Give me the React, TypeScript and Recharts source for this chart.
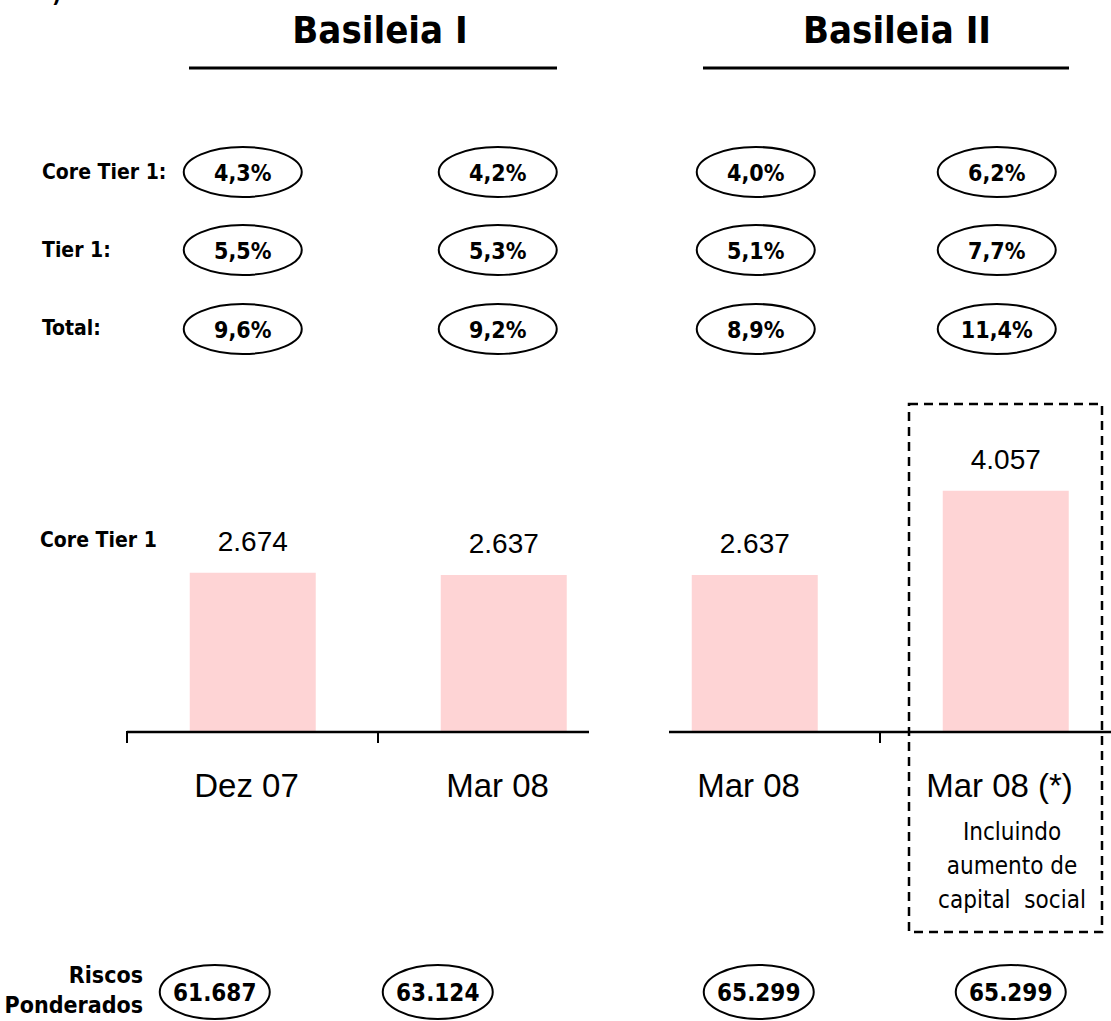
import React from 'react';
import { BarChart, Bar, XAxis, YAxis, LabelList } from 'recharts';

// ---------------------------------------------------------------------------
// Data
// ---------------------------------------------------------------------------

const categories = ['Dez 07', 'Mar 08', 'Mar 08', 'Mar 08 (*)'];
const coreTier1Capital = [2674, 2637, 2637, 4057];
const coreTier1Ratio = [4.3, 4.2, 4.0, 6.2];
const tier1Ratio = [5.5, 5.3, 5.1, 7.7];
const totalRatio = [9.6, 9.2, 8.9, 11.4];
const riskWeighted = [61687, 63124, 65299, 65299];

const data = categories.map((name, i) => ({
  id: i,
  name,
  capital: coreTier1Capital[i],
  core: coreTier1Ratio[i],
  tier1: tier1Ratio[i],
  total: totalRatio[i],
  rwa: riskWeighted[i],
}));

// ---------------------------------------------------------------------------
// Layout
// ---------------------------------------------------------------------------

const CHART_W = 1131;
const CHART_H = 1021;
const MARGIN_LEFT = 127;
const BAND = (CHART_W - MARGIN_LEFT) / categories.length;
const BASEL_II_START = 2; // first category measured under Basel II
const AXIS_GAP = 40; // half of the break in the axis between the two regimes

// badges are not exactly centred on the bars in the original slide
const ratioShift = [-10, -6, 1, -9];
const rwaShift = [-38, -66, 4, 5];

const BOLD = '"DejaVu Sans Condensed", "DejaVu Sans", Verdana, sans-serif';
const ARIAL = '"Liberation Sans", Arial, sans-serif';

const thousands = (v: number) => String(Math.round(v)).replace(/\B(?=(\d{3})+(?!\d))/g, '.');
const pct = (v: number) => v.toFixed(1).replace('.', ',') + '%';

// oval badge drawn at a fixed row height, centred on each bar
const oval =
  (
    cy: number,
    rx: number,
    ry: number,
    fontSize: number,
    shift: number[],
    fmt: (v: number) => string,
  ) =>
  // eslint-disable-next-line @typescript-eslint/no-explicit-any
  (props: any) => {
    const vb = props.viewBox ?? props;
    const cx = vb.x + vb.width / 2 + (shift[props.index] ?? 0);
    return (
      <g key={`oval-${cy}-${props.index}`}>
        <ellipse cx={cx} cy={cy} rx={rx} ry={ry} fill="none" stroke="#000" strokeWidth={2} />
        <text
          x={cx}
          y={cy + fontSize * 0.37}
          textAnchor="middle"
          fontFamily={BOLD}
          fontWeight="bold"
          fontSize={fontSize}
          fill="#000"
        >
          {fmt(Number(props.value))}
        </text>
      </g>
    );
  };

// category tick: draws its stretch of the baseline, the tick mark and the label
// eslint-disable-next-line @typescript-eslint/no-explicit-any
const CategoryTick = (props: any) => {
  const { x, y, index } = props;
  const half = typeof props.payload?.offset === 'number' && props.payload.offset > 0 ? props.payload.offset : BAND / 2;
  const start = x - half;
  const end = x + half;
  const x1 = index === BASEL_II_START ? start + AXIS_GAP : start;
  const x2 = index === BASEL_II_START - 1 ? end - AXIS_GAP : end;
  return (
    <g>
      <line x1={x1} x2={x2} y1={y + 1} y2={y + 1} stroke="#000" strokeWidth={2.5} />
      {index !== BASEL_II_START && (
        <line x1={start} x2={start} y1={y} y2={y + 12} stroke="#000" strokeWidth={2} />
      )}
      <text x={x - 6} y={y + 66} textAnchor="middle" fontFamily={ARIAL} fontSize={33} fill="#000">
        {categories[index]}
      </text>
    </g>
  );
};

// ---------------------------------------------------------------------------
// Component
// ---------------------------------------------------------------------------

export default function App() {
  return (
    <div
      style={{
        position: 'absolute',
        left: 0,
        top: 0,
        width: 1111,
        height: 1021,
        overflow: 'hidden',
        background: '#fff',
      }}
    >
      <BarChart
        width={CHART_W}
        height={CHART_H}
        data={data}
        margin={{ top: 435, right: 0, left: MARGIN_LEFT, bottom: 230 }}
        barCategoryGap="25%"
      >
        <XAxis
          dataKey="id"
          height={60}
          interval={0}
          axisLine={false}
          tickLine={false}
          tickSize={0}
          tickMargin={0}
          tick={<CategoryTick />}
        />
        <YAxis hide domain={[0, 5000]} />
        <Bar dataKey="capital" fill="#fed4d5" isAnimationActive={false}>
          <LabelList
            dataKey="capital"
            position="top"
            offset={22}
            formatter={(v: number) => thousands(v)}
            style={{ fontSize: 28, fill: '#000', fontFamily: ARIAL }}
          />
          <LabelList dataKey="core" content={oval(172, 59, 25, 23, ratioShift, pct)} />
          <LabelList dataKey="tier1" content={oval(250, 59, 25, 23, ratioShift, pct)} />
          <LabelList dataKey="total" content={oval(329, 59, 25, 23, ratioShift, pct)} />
          <LabelList dataKey="rwa" content={oval(992, 55, 27, 24, rwaShift, thousands)} />
        </Bar>
      </BarChart>

      {/* headers, row captions and the dashed note box */}
      <svg
        width={1111}
        height={1021}
        style={{ position: 'absolute', left: 0, top: 0, pointerEvents: 'none' }}
      >
        <text x={52} y={2} fontFamily={BOLD} fontWeight="bold" fontSize={22}>)</text>
        <g fontFamily={BOLD} fontWeight="bold" fill="#000">
          <text x={380} y={43} fontSize={38} textAnchor="middle">Basileia I</text>
          <text x={897} y={43} fontSize={38} textAnchor="middle">Basileia II</text>
          <text x={42} y={179} fontSize={21}>Core Tier 1:</text>
          <text x={42} y={257} fontSize={21}>Tier 1:</text>
          <text x={42} y={335} fontSize={21}>Total:</text>
          <text x={40} y={547} fontSize={21}>Core Tier 1</text>
          <text x={143} y={983} fontSize={23} textAnchor="end">Riscos</text>
          <text x={143} y={1013} fontSize={23} textAnchor="end">Ponderados</text>
        </g>
        <line x1={189} x2={557} y1={68} y2={68} stroke="#000" strokeWidth={3} />
        <line x1={703} x2={1069} y1={68} y2={68} stroke="#000" strokeWidth={3} />
        <rect
          x={909}
          y={404}
          width={193}
          height={528}
          fill="none"
          stroke="#000"
          strokeWidth={2.5}
          strokeDasharray="9 6"
        />
        <g fontFamily={BOLD} fontSize={24} fill="#000" textAnchor="middle">
          <text x={1012} y={840}>Incluindo</text>
          <text x={1012} y={874}>aumento de</text>
          <text x={1012} y={908} style={{ whiteSpace: 'pre' }}>capital  social</text>
        </g>
      </svg>
    </div>
  );
}
